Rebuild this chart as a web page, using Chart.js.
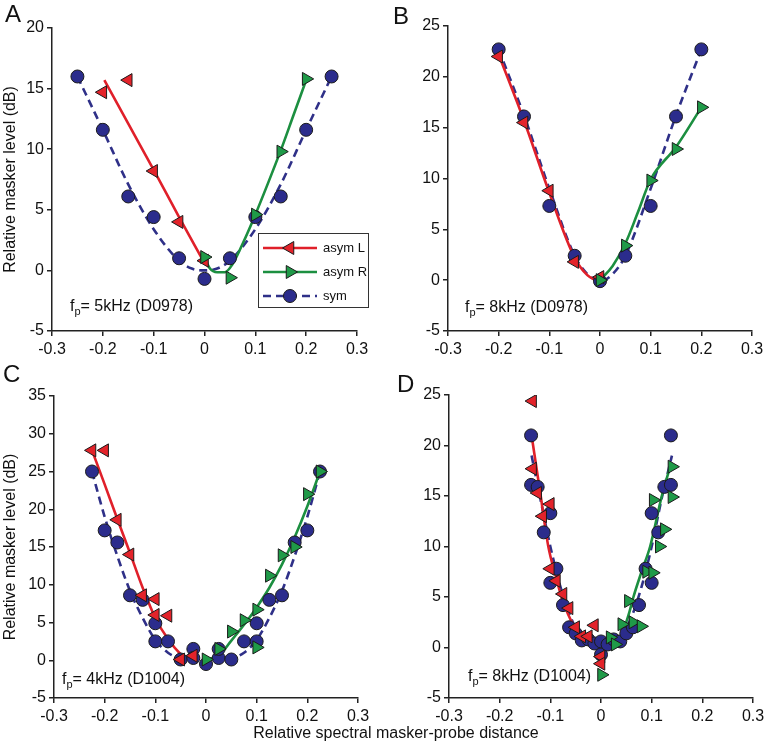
<!DOCTYPE html>
<html>
<head>
<meta charset="utf-8">
<script src="https://cdn.jsdelivr.net/npm/chart.js@4"></script>
<style>
  body { margin: 0; background: #fff; }
  #page { position: relative; width: 767px; height: 751px; overflow: hidden; font-family: "Liberation Sans", Arial, sans-serif; color: #111; }
  .panel { position: absolute; }
  .letter { position: absolute; font-size: 24px; line-height: 1; }
  .note { position: absolute; font-size: 16px; line-height: 1; white-space: nowrap; }
  .note sub { font-size: 11px; vertical-align: -4px; line-height: 0; }
  #xtitle { position: absolute; left: 146px; width: 500px; top: 725px; text-align: center; font-size: 16px; line-height: 1; }
</style>
</head>
<body>
<div id="page">
  <canvas class="panel" id="chartA" width="383" height="375" style="left:0;top:0"></canvas>
  <canvas class="panel" id="chartB" width="384" height="375" style="left:383px;top:0"></canvas>
  <canvas class="panel" id="chartC" width="383" height="355" style="left:0;top:375px"></canvas>
  <canvas class="panel" id="chartD" width="384" height="355" style="left:383px;top:375px"></canvas>

  <div class="letter" style="left:5px;top:2px">A</div>
  <div class="letter" style="left:393px;top:4px">B</div>
  <div class="letter" style="left:3px;top:362px">C</div>
  <div class="letter" style="left:397px;top:372px">D</div>

  <div class="note" style="left:70px;top:298px">f<sub>p</sub>= 5kHz (D0978)</div>
  <div class="note" style="left:465px;top:299px">f<sub>p</sub>= 8kHz (D0978)</div>
  <div class="note" style="left:62px;top:671px">f<sub>p</sub>= 4kHz (D1004)</div>
  <div class="note" style="left:468px;top:668px">f<sub>p</sub>= 8kHz (D1004)</div>

  <div id="xtitle">Relative spectral masker-probe distance</div>
</div>

<script>
// --- tick labels ---
const xTicks = [-0.3, -0.2, -0.1, 0, 0.1, 0.2, 0.3];
const yTicksA = [-5, 0, 5, 10, 15, 20];
const yTicksB = [-5, 0, 5, 10, 15, 20, 25];
const yTicksC = [-5, 0, 5, 10, 15, 20, 25, 30, 35];
const yTicksD = [-5, 0, 5, 10, 15, 20, 25];

// --- panel A (5 kHz, D0978) ---
const aLeftX  = [-0.2, -0.15, -0.1, -0.05, 0];
const aLeftY  = [14.7, 15.7, 8.2, 4.0, 0.8];
const aRightX = [0, 0.05, 0.1, 0.15, 0.2];
const aRightY = [1.1, -0.6, 4.6, 9.8, 15.8];
const aSymX   = [-0.25, -0.2, -0.15, -0.1, -0.05, 0, 0.05, 0.1, 0.15, 0.2, 0.25];
const aSymY   = [16, 11.6, 6.1, 4.4, 1.0, -0.7, 1.0, 4.4, 6.1, 11.6, 16];
const aFitLX  = [-0.197, -0.15, -0.1, -0.05, 0];
const aFitLY  = [15.7, 12.1, 8.3, 4.4, 0.6];
const aFitRX  = [0, 0.01, 0.025, 0.04, 0.055, 0.075, 0.1, 0.125, 0.15, 0.175, 0.2];
const aFitRY  = [1.1, 0.2, -0.15, -0.15, 0.5, 2.2, 4.6, 7.2, 9.9, 12.8, 15.7];
const aFitSX  = [-0.25, -0.2, -0.15, -0.1, -0.05, -0.025, 0, 0.025, 0.05, 0.1, 0.15, 0.2, 0.25];
const aFitSY  = [16, 11.6, 7.1, 3.4, 0.8, 0.15, 0, 0.15, 0.8, 3.4, 7.1, 11.6, 16];

// --- panel B (8 kHz, D0978) ---
const bLeftX  = [-0.2, -0.15, -0.1, -0.05, 0];
const bLeftY  = [22.0, 15.5, 8.8, 1.8, 0.3];
const bRightX = [0, 0.05, 0.1, 0.15, 0.2];
const bRightY = [0, 3.4, 9.8, 12.9, 17.0];
const bSymX   = [-0.2, -0.15, -0.1, -0.05, 0, 0.05, 0.1, 0.15, 0.2];
const bSymY   = [22.7, 16.1, 7.3, 2.4, -0.1, 2.4, 7.3, 16.1, 22.7];
const bFitLX  = [-0.2, -0.15, -0.1, -0.05, -0.025, -0.008];
const bFitLY  = [22.2, 15.7, 8.6, 2.2, 0.5, 0];
const bFitRX  = [0, 0.025, 0.05, 0.075, 0.1, 0.15, 0.2];
const bFitRY  = [0, 1.4, 3.6, 6.7, 9.9, 13.1, 17.0];
const bFitSX  = [-0.2, -0.15, -0.1, -0.05, -0.025, 0, 0.025, 0.05, 0.1, 0.15, 0.2];
const bFitSY  = [22.7, 16.2, 9.0, 2.4, 0.6, -0.1, 0.6, 2.4, 9.0, 16.2, 22.7];

// --- panel C (4 kHz, D1004) ---
const cLeftX  = [-0.225, -0.2, -0.175, -0.15, -0.125, -0.1, -0.1, -0.075, -0.05, -0.025];
const cLeftY  = [27.8, 27.8, 18.6, 14.0, 8.6, 8.1, 6.0, 5.9, 0.1, 0.6];
const cRightX = [0, 0.025, 0.05, 0.075, 0.1, 0.1, 0.125, 0.15, 0.175, 0.2, 0.225];
const cRightY = [0.1, 1.5, 3.8, 5.3, 6.7, 1.7, 11.2, 13.9, 15.0, 22.0, 25.0];
const cSymX   = [-0.225, -0.2, -0.175, -0.15, -0.125, -0.1, -0.1, -0.075, -0.05, -0.025, -0.025, 0,
                 0.025, 0.025, 0.05, 0.075, 0.1, 0.1, 0.125, 0.15, 0.175, 0.2, 0.225];
const cSymY   = [25, 17.2, 15.6, 8.6, 8.0, 4.9, 2.5, 2.5, 0.1, 1.5, 0.3, -0.5,
                 0.3, 1.5, 0.1, 2.5, 2.5, 4.9, 8.0, 8.6, 15.6, 17.2, 25];
const cFitLX  = [-0.225, -0.2, -0.175, -0.15, -0.125, -0.1, -0.075, -0.05, -0.035];
const cFitLY  = [27.8, 23.3, 18.7, 14.2, 9.6, 5.6, 2.8, 0.8, 0.1];
const cFitRX  = [0, 0.025, 0.05, 0.075, 0.1, 0.125, 0.15, 0.175, 0.2, 0.225];
const cFitRY  = [0.1, 0.6, 2.6, 4.7, 7.0, 9.6, 12.7, 16.3, 20.4, 25.0];
const cFitSX  = [-0.225, -0.2, -0.175, -0.15, -0.125, -0.1, -0.075, -0.05, -0.025, 0,
                 0.025, 0.05, 0.075, 0.1, 0.125, 0.15, 0.175, 0.2, 0.225];
const cFitSY  = [25, 19.0, 13.8, 9.2, 5.6, 2.7, 1.0, 0.2, -0.1, -0.2,
                 -0.1, 0.2, 1.0, 2.7, 5.6, 9.2, 13.8, 19.0, 25];

// --- panel D (8 kHz, D1004) ---
const dLeftX  = [-0.135, -0.135, -0.125, -0.115, -0.1, -0.1, -0.088, -0.075, -0.063, -0.05, -0.038, -0.025, -0.013, 0, 0];
const dLeftY  = [24.4, 17.7, 15.3, 13.0, 14.2, 7.8, 6.6, 5.3, 3.9, 2.0, 1.1, 1.1, 2.2, -0.9, -1.6];
const dRightX = [0.001, 0.018, 0.028, 0.041, 0.054, 0.063, 0.079, 0.09, 0.102, 0.103, 0.115, 0.125, 0.14, 0.14];
const dRightY = [-2.7, 1.0, 0.3, 2.3, 4.6, 2.5, 2.1, 7.5, 7.4, 14.6, 10.0, 11.7, 14.9, 17.9];
const dSymX   = [-0.138, -0.138, -0.125, -0.113, -0.1, -0.1, -0.088, -0.075, -0.063, -0.05, -0.038, -0.025, -0.013, 0, 0,
                 0.013, 0.025, 0.038, 0.05, 0.063, 0.075, 0.088, 0.1, 0.1, 0.113, 0.125, 0.138, 0.138];
const dSymY   = [21.0, 16.1, 15.9, 11.4, 13.3, 6.4, 7.8, 4.2, 2.0, 1.4, 0.7, 0.8, 0.4, 0.6, -0.7,
                 0.3, 0.8, 0.6, 1.4, 2.0, 4.2, 7.8, 6.4, 13.3, 11.4, 15.9, 16.1, 21.0];
const dFitLX  = [-0.137, -0.134, -0.119, -0.104, -0.09, -0.078, -0.065, -0.055, -0.048];
const dFitLY  = [21.0, 20.0, 15.0, 10.0, 7.2, 5.0, 3.3, 2.3, 1.8];
const dFitRX  = [0.048, 0.056, 0.064, 0.08, 0.097, 0.12, 0.137];
const dFitRY  = [2.2, 3.5, 5.0, 7.5, 10.0, 15.0, 18.0];
const dFitSX  = [-0.137, -0.12, -0.1, -0.08, -0.06, -0.04, -0.02, 0, 0.02, 0.04, 0.06, 0.08, 0.1, 0.12, 0.14];
const dFitSY  = [19.0, 14.8, 10.0, 6.0, 3.0, 1.2, 0.4, 0.2, 0.4, 1.2, 3.0, 6.0, 10.0, 14.8, 19.0];

// colours
const RED = '#e3232a';
const GREEN = '#1f9a48';
const NAVY = '#2b2c8c';
const RED_LINE = '#e0202a';
const GREEN_LINE = '#1c8f40';
const NAVY_LINE = '#2f3088';
const EDGE = '#1b1b1b';
const FONT = '"Liberation Sans", Arial, sans-serif';

function pts(xs, ys) {
    return xs.map((x, i) => ({ x: x, y: ys[i] }));
}

function makeDatasets(d) {
    return [
        { label: 'asym R', data: pts(d.rx, d.ry), showLine: false, pointStyle: 'triangle', rotation: 90,
          pointRadius: 7.5, backgroundColor: GREEN, borderColor: EDGE, borderWidth: 1, order: 0 },
        { label: 'asym L', data: pts(d.lx, d.ly), showLine: false, pointStyle: 'triangle', rotation: 270,
          pointRadius: 7.5, backgroundColor: RED, borderColor: EDGE, borderWidth: 1, order: 1 },
        { label: 'sym', data: pts(d.sx, d.sy), showLine: false, pointStyle: 'circle',
          pointRadius: 6.5, backgroundColor: NAVY, borderColor: EDGE, borderWidth: 1, order: 2 },
        { label: 'fit R', data: pts(d.frx, d.fry), showLine: true, pointRadius: 0, borderColor: GREEN_LINE,
          borderWidth: 2.6, cubicInterpolationMode: 'monotone', order: 3 },
        { label: 'fit L', data: pts(d.flx, d.fly), showLine: true, pointRadius: 0, borderColor: RED_LINE,
          borderWidth: 2.6, cubicInterpolationMode: 'monotone', order: 4 },
        { label: 'fit sym', data: pts(d.fsx, d.fsy), showLine: true, pointRadius: 0, borderColor: NAVY_LINE,
          borderWidth: 2.6, borderDash: [8, 5], cubicInterpolationMode: 'monotone', order: 5 }
    ];
}

// legend box drawn inside panel A
const boxLegend = {
    id: 'boxLegend',
    afterDatasetsDraw(chart, args, opts) {
        if (!opts.rows) return;
        const ctx = chart.ctx;
        const [bx, by, bw, bh] = opts.box;
        ctx.save();
        ctx.fillStyle = '#fff';
        ctx.fillRect(bx, by, bw, bh);
        ctx.strokeStyle = '#333';
        ctx.lineWidth = 1;
        ctx.strokeRect(bx + 0.5, by + 0.5, bw - 1, bh - 1);
        opts.rows.forEach((row, i) => {
            const y = by + opts.firstRow + i * opts.rowGap;
            const line = chart.data.datasets[row.line];
            const pt = chart.data.datasets[row.point];
            ctx.strokeStyle = line.borderColor;
            ctx.lineWidth = line.borderWidth;
            ctx.setLineDash(line.borderDash || []);
            ctx.beginPath();
            ctx.moveTo(bx + opts.lineFrom, y);
            ctx.lineTo(bx + opts.lineTo, y);
            ctx.stroke();
            ctx.setLineDash([]);
            const mx = bx + (opts.lineFrom + opts.lineTo) / 2;
            ctx.fillStyle = pt.backgroundColor;
            ctx.strokeStyle = pt.borderColor;
            ctx.lineWidth = pt.borderWidth;
            ctx.beginPath();
            if (pt.pointStyle === 'circle') {
                ctx.arc(mx, y, pt.pointRadius, 0, Math.PI * 2);
            } else {
                let rad = pt.rotation * Math.PI / 180;
                for (let k = 0; k < 3; k++) {
                    const px = mx + Math.sin(rad) * pt.pointRadius;
                    const py = y - Math.cos(rad) * pt.pointRadius;
                    if (k === 0) ctx.moveTo(px, py); else ctx.lineTo(px, py);
                    rad += Math.PI * 2 / 3;
                }
                ctx.closePath();
            }
            ctx.fill();
            ctx.stroke();
            ctx.fillStyle = '#111';
            ctx.font = '13px ' + FONT;
            ctx.textBaseline = 'middle';
            ctx.textAlign = 'left';
            ctx.fillText(row.text, bx + opts.textX, y);
        });
        ctx.restore();
    }
};

function buildPanel(id, d, p) {
    const axisColor = '#222';
    return new Chart(document.getElementById(id), {
        type: 'scatter',
        data: { datasets: makeDatasets(d) },
        plugins: p.legend ? [boxLegend] : [],
        options: {
            responsive: false,
            animation: false,
            events: [],
            layout: { padding: p.pad },
            plugins: {
                legend: { display: false },
                tooltip: { enabled: false },
                boxLegend: p.legend || {}
            },
            scales: {
                x: {
                    type: 'linear',
                    min: -0.3,
                    max: 0.3,
                    afterBuildTicks: s => { s.ticks = xTicks.map(v => ({ value: v })); },
                    afterFit: s => { s.height = 30; s.paddingLeft = 0; s.paddingRight = 0; },
                    border: { display: true, color: axisColor, width: 1.5 },
                    grid: { drawOnChartArea: false, drawTicks: true, tickLength: 5, color: axisColor, lineWidth: 1.5 },
                    ticks: {
                        padding: 4,
                        color: '#111',
                        font: { family: FONT, size: 16 },
                        callback: v => String(Math.round(v * 10) / 10)
                    }
                },
                y: {
                    type: 'linear',
                    min: d.yTicks[0],
                    max: d.yTicks[d.yTicks.length - 1],
                    afterBuildTicks: s => { s.ticks = d.yTicks.map(v => ({ value: v })); },
                    afterFit: s => { s.width = p.yWidth; s.paddingTop = 0; s.paddingBottom = 0; },
                    border: { display: true, color: axisColor, width: 1.5 },
                    grid: { drawOnChartArea: false, drawTicks: true, tickLength: 5, color: axisColor, lineWidth: 1.5 },
                    ticks: {
                        padding: 3,
                        color: '#111',
                        font: { family: FONT, size: 16 },
                        callback: v => String(v)
                    },
                    title: {
                        display: !!p.yTitle,
                        text: 'Relative masker level (dB)',
                        color: '#111',
                        padding: { top: 1, bottom: 0 },
                        font: { family: FONT, size: 16 }
                    }
                }
            }
        }
    });
}

buildPanel('chartA', {
    lx: aLeftX, ly: aLeftY, rx: aRightX, ry: aRightY, sx: aSymX, sy: aSymY,
    flx: aFitLX, fly: aFitLY, frx: aFitRX, fry: aFitRY, fsx: aFitSX, fsy: aFitSY, yTicks: yTicksA
}, {
    pad: { left: 0, top: 28, right: 26, bottom: 14 }, yWidth: 52, yTitle: true,
    legend: {
        box: [258, 233, 111, 75], firstRow: 15, rowGap: 24, lineFrom: 5, lineTo: 59, textX: 65,
        rows: [
            { line: 4, point: 1, text: 'asym L' },
            { line: 3, point: 0, text: 'asym R' },
            { line: 5, point: 2, text: 'sym' }
        ]
    }
});

buildPanel('chartB', {
    lx: bLeftX, ly: bLeftY, rx: bRightX, ry: bRightY, sx: bSymX, sy: bSymY,
    flx: bFitLX, fly: bFitLY, frx: bFitRX, fry: bFitRY, fsx: bFitSX, fsy: bFitSY, yTicks: yTicksB
}, { pad: { left: 20, top: 26, right: 15, bottom: 14 }, yWidth: 45, yTitle: false });

buildPanel('chartC', {
    lx: cLeftX, ly: cLeftY, rx: cRightX, ry: cRightY, sx: cSymX, sy: cSymY,
    flx: cFitLX, fly: cFitLY, frx: cFitRX, fry: cFitRY, fsx: cFitSX, fsy: cFitSY, yTicks: yTicksC
}, { pad: { left: 0, top: 21, right: 25, bottom: 2 }, yWidth: 54, yTitle: true });

buildPanel('chartD', {
    lx: dLeftX, ly: dLeftY, rx: dRightX, ry: dRightY, sx: dSymX, sy: dSymY,
    flx: dFitLX, fly: dFitLY, frx: dFitRX, fry: dFitRY, fsx: dFitSX, fsy: dFitSY, yTicks: yTicksD
}, { pad: { left: 21, top: 20, right: 14, bottom: 2 }, yWidth: 45, yTitle: false });
</script>
</body>
</html>
